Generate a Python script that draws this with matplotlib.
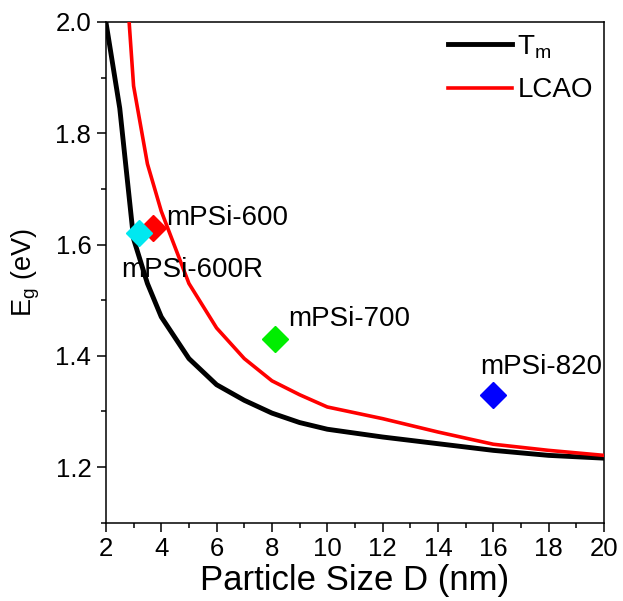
import matplotlib
matplotlib.use("Agg")
import matplotlib.pyplot as plt
from matplotlib.ticker import MultipleLocator

plt.rcParams["font.family"] = ["Liberation Sans", "DejaVu Sans"]
plt.rcParams["mathtext.fontset"] = "custom"
plt.rcParams["mathtext.rm"] = "Liberation Sans"
plt.rcParams["mathtext.it"] = "Liberation Sans"
plt.rcParams["mathtext.default"] = "regular"

# Band gap vs particle size, two models
d_tm = [2, 2.5, 3, 3.5, 4, 5, 6, 7, 8, 9, 10, 12, 14, 16, 18, 20]
eg_tm = [2.0, 1.845, 1.61, 1.53, 1.47, 1.395, 1.348, 1.32, 1.297, 1.28,
         1.268, 1.254, 1.242, 1.23, 1.221, 1.216]

d_lcao = [2, 3, 3.5, 4, 5, 6, 7, 8, 9, 10, 12, 14, 16, 18, 20]
eg_lcao = [2.6, 1.885, 1.745, 1.66, 1.53, 1.45, 1.395, 1.355, 1.33, 1.308,
           1.287, 1.263, 1.241, 1.23, 1.221]

# Measured samples
samples = ["mPSi-600", "mPSi-600R", "mPSi-700", "mPSi-820"]
sample_d = [3.7, 3.2, 8.1, 16.0]
sample_eg = [1.63, 1.62, 1.43, 1.33]
sample_colors = ["#ff0000", "#00e8f0", "#00ee00", "#0000ff"]
label_pos = [(4.17, 1.647), (2.54, 1.554), (8.58, 1.467), (15.52, 1.38)]

fig = plt.figure(figsize=(6.23, 6.01), dpi=100)
ax = fig.add_axes([0.170, 0.1303, 0.7995, 0.8331])

ax.plot(d_tm, eg_tm, color="black", lw=3.5, label="T$_m$", zorder=3,
        solid_joinstyle="round")
ax.plot(d_lcao, eg_lcao, color="#ff0000", lw=2.6, label="LCAO", zorder=3,
        solid_joinstyle="round")

for name, x, y, c, (tx, ty) in zip(samples, sample_d, sample_eg,
                                   sample_colors, label_pos):
    ax.plot(x, y, marker="D", ms=13.5, color=c, mec=c, ls="none", zorder=4)
    ax.text(tx, ty, name, fontsize=20, va="center", ha="left", zorder=5)

ax.set_xlim(2, 20)
ax.set_ylim(1.1, 2.0)
ax.xaxis.set_major_locator(MultipleLocator(2))
ax.xaxis.set_minor_locator(MultipleLocator(1))
ax.yaxis.set_major_locator(MultipleLocator(0.2))
ax.yaxis.set_minor_locator(MultipleLocator(0.1))
ax.set_yticks([1.2, 1.4, 1.6, 1.8, 2.0])
ax.yaxis.set_major_formatter(plt.FuncFormatter(lambda v, p: f"{v:.1f}"))

ax.tick_params(which="both", direction="out", top=False, right=False,
               width=1.1, labelsize=18.5)
ax.tick_params(which="major", length=6.5, pad=4)
ax.tick_params(which="minor", length=3.5)
for s in ax.spines.values():
    s.set_linewidth(1.1)

ax.set_xlabel("Particle Size D (nm)", fontsize=25, labelpad=2)
ax.set_ylabel("E$_g$ (eV)", fontsize=19.5, labelpad=10)

ax.legend(loc="upper right", frameon=False, fontsize=20, handlelength=2.3,
          handletextpad=0.2, labelspacing=0.6, borderaxespad=0.0,
          bbox_to_anchor=(1.0, 1.0))

fig.savefig("out.png", dpi=100)
